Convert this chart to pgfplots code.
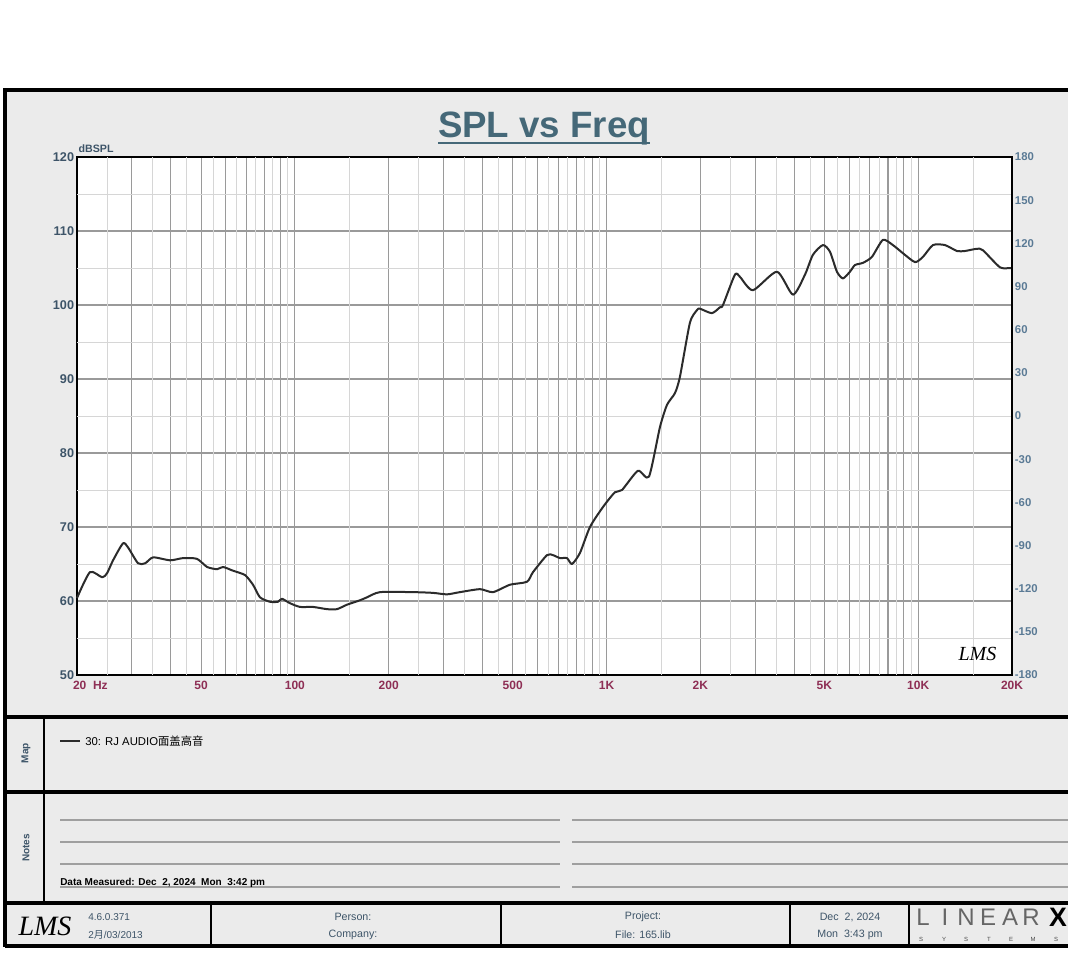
\documentclass[border=0pt]{standalone}
\usepackage{fontspec}
\setmainfont{Liberation Sans}
\newfontfamily\cjk{Noto Sans CJK SC}
\newfontfamily\serifit{Liberation Serif}
\usepackage{pgfplots}
\pgfplotsset{compat=1.18}

\definecolor{bg}{HTML}{EBEBEB}
\definecolor{slate}{HTML}{3D5468}
\definecolor{titlec}{HTML}{456878}
\definecolor{phasec}{HTML}{5A7A95}
\definecolor{freqc}{HTML}{8E2F55}
\definecolor{gridd}{HTML}{9A9A9A}
\definecolor{gridl}{HTML}{D6D6D6}
\definecolor{curve}{HTML}{2B2B2B}

\begin{document}
\begin{tikzpicture}
% page furniture, in pixel units of the reference (1068 x 958)
\begin{scope}[x=0.75pt,y=-0.75pt]
\useasboundingbox (0,0) rectangle (1068,958);
\fill[white] (0,0) rectangle (1068,958);
\fill[bg] (5,90) rectangle (1068,946);
\draw[line width=3pt] (5,90) -- (1068,90);
\draw[line width=3pt] (5,88) -- (5,947);
\draw[line width=3pt] (5,946) -- (1068,946);
\draw[line width=2.4pt] (5,717) -- (1068,717);
\draw[line width=2.4pt] (5,792) -- (1068,792);
\draw[line width=2.4pt] (5,903) -- (1068,903);
\draw[line width=2pt] (44,717) -- (44,903);
\foreach \xx in {211,501,790,909} \draw[line width=1.6pt] (\xx,903) -- (\xx,946);
% map / notes
\node[rotate=90, font=\fontsize{7.5}{8}\selectfont\bfseries, text=slate] at (26,753) {Map};
\node[rotate=90, font=\fontsize{7.5}{8}\selectfont\bfseries, text=slate] at (26,848) {Notes};
\draw[curve, line width=1.1pt] (60,741) -- (80,741);
\node[anchor=west, inner sep=0pt, font=\fontsize{8.5}{9}\selectfont] at (85,741) {30: RJ AUDIO{\cjk 面盖高音}};
\foreach \yy in {820,842,864,887} {
  \draw[gray!75, line width=0.8pt] (60,\yy) -- (560,\yy);
  \draw[gray!75, line width=0.8pt] (572,\yy) -- (1068,\yy);
}
\node[anchor=base west, inner sep=0pt, font=\fontsize{7.5}{8}\selectfont\bfseries] at (60,885) {Data Measured: Dec\ \ 2, 2024\ \ Mon\ \ 3:42 pm};
% footer
\node[font=\serifit\itshape\fontsize{21}{21}\selectfont] at (45,926) {LMS};
\node[anchor=west, inner sep=0pt, font=\fontsize{7.5}{8}\selectfont, text=slate] at (88,917) {4.6.0.371};
\node[anchor=west, inner sep=0pt, font=\fontsize{7.5}{8}\selectfont, text=slate] at (88,935) {2{\cjk 月}/03/2013};
\node[font=\fontsize{8}{9}\selectfont, text=slate] at (353,917) {Person:};
\node[font=\fontsize{8}{9}\selectfont, text=slate] at (353,935) {Company:};
\node[font=\fontsize{8}{9}\selectfont, text=slate] at (643,917) {Project:};
\node[font=\fontsize{8}{9}\selectfont, text=slate] at (643,935) {File: 165.lib};
\node[font=\fontsize{8}{9}\selectfont, text=slate] at (850,917) {Dec\ \ 2, 2024};
\node[font=\fontsize{8}{9}\selectfont, text=slate] at (850,935) {Mon\ \ 3:43 pm};
\foreach \ll/\xx in {L/923,I/945,N/966,E/988,A/1010,R/1031}
  \node[font=\fontsize{18}{18}\selectfont, text=black!60] at (\xx,917) {\ll};
\node[font=\fontsize{20}{20}\selectfont\bfseries] at (1058,917) {X};
\foreach \ll/\xx in {S/921,Y/944,S/966,T/989,E/1011,M/1033,S/1056}
  \node[font=\fontsize{4.5}{5}\selectfont, text=black!70] at (\xx,939) {\ll};
% title
\node[anchor=base, inner sep=0pt, font=\fontsize{27.5}{28}\selectfont\bfseries, text=titlec] at (544,137) {SPL vs Freq};
\draw[titlec, line width=1.5pt] (438,142.5) -- (650,142.5);
\end{scope}

\begin{axis}[
  at={(57.75pt,-506.25pt)}, anchor=south west,
  scale only axis, width=701.25pt, height=388.5pt,
  xmode=log, xmin=20, xmax=20000, ymin=50, ymax=120,
  clip=false,
  axis background/.style={fill=white},
  axis line style={black, line width=0.9pt},
  xtick={20,50,100,200,500,1000,2000,5000,10000,20000},
  xticklabels={\makebox[0pt][l]{\hspace*{-3pt}20\ \ Hz},50,100,200,500,1K,2K,5K,10K,20K},
  minor xtick={30,40,60,70,80,90,300,400,600,700,800,900,3000,4000,6000,7000,8000,9000},
  extra x ticks={25,35,45,55,65,75,85,95,150,250,350,450,550,650,750,850,950,1500,2500,3500,4500,5500,6500,7500,8500,9500,15000},
  extra x tick labels={},
  extra x tick style={major grid style={gridl, line width=0.7pt}},
  ytick={50,60,70,80,90,100,110,120},
  yticklabels={50,60,70,80,90,100,110,120},
  extra y ticks={55,65,75,85,95,105,115},
  extra y tick labels={},
  extra y tick style={major grid style={gridl, line width=0.7pt}},
  grid=both,
  major grid style={gridd, line width=0.8pt},
  minor grid style={gridd, line width=0.8pt},
  major tick length=0pt, minor tick length=0pt,
  xticklabel style={font=\fontsize{9}{10}\selectfont\bfseries, text=freqc, text height=7pt, text depth=0pt},
  yticklabel style={font=\fontsize{9.5}{10}\selectfont\bfseries, text=slate, inner sep=2pt},
]
\addplot[curve, line width=1.5pt, line join=round, smooth, tension=0.4] coordinates {
(20,60.4) (22.0,63.9) (24.1,63.2) (25.0,63.8) (26.1,65.5) (28.1,67.8) (29.2,67.2)
(31.4,65.1) (33.1,65.1) (35.1,65.9) (39.8,65.5) (43.8,65.8) (48.5,65.7) (52.3,64.6)
(56.3,64.3) (58.8,64.6) (63.3,64.1) (69.2,63.5) (73.4,62.2) (77.3,60.5) (83.2,59.9)
(88.3,59.9) (90.9,60.3) (96.5,59.7) (103.9,59.2) (114.3,59.2) (126.8,58.9) (136.5,58.9)
(146.9,59.5) (161.8,60.1) (170.4,60.5) (187.6,61.2) (239.4,61.2) (277.5,61.1) (307.6,60.9)
(338.6,61.2) (392.7,61.6) (432.2,61.2) (490,62.2) (555.6,62.6) (580.9,63.9) (644,66.2)
(673.3,66.2) (709,65.8) (746.6,65.8) (774.8,65.0) (821.8,66.5) (884.8,70.0) (974,72.7)
(1064,74.7) (1121,75.0) (1261,77.6) (1368,76.8) (1484,83.5) (1563,86.5) (1658,88.1)
(1720,90.3) (1852,97.6) (1950,99.3) (1994,99.5) (2178,98.9) (2312,99.7) (2364,100.0)
(2582,104.1) (2680,103.8) (2950,102.0) (3522,104.5) (3964,101.4) (4332,104.1) (4596,106.8)
(4948,108.1) (5210,107.2) (5486,104.5) (5736,103.6) (6040,104.5) (6268,105.4) (6648,105.7)
(7104,106.5) (7706,108.8) (8296,108.1) (8934,107.0) (9762,105.8) (10354,106.5) (11150,108.1)
(12184,108.1) (13314,107.3) (14126,107.3) (15434,107.6) (16132,107.4) (18292,105.1)
(19694,105.0) (20000,105.0)
};
\node[anchor=south west, inner sep=1pt, yshift=2pt, font=\fontsize{8}{9}\selectfont\bfseries, text=slate] at (rel axis cs:0,1) {dBSPL};
\node[font=\serifit\itshape\fontsize{15}{15}\selectfont] at (rel axis cs:0.963,0.04) {LMS};
\end{axis}

\begin{axis}[
  at={(57.75pt,-506.25pt)}, anchor=south west,
  scale only axis, width=701.25pt, height=388.5pt,
  xmode=log, xmin=20, xmax=20000, ymin=-180, ymax=180,
  hide x axis,
  axis y line*=right,
  axis line style={black, line width=0.9pt},
  ytick={-180,-150,-120,-90,-60,-30,0,30,60,90,120,150,180},
  yticklabels={-180,-150,-120,-90,-60,-30,0,30,60,90,120,150,180},
  major tick length=0pt,
  yticklabel style={font=\fontsize{8.5}{9}\selectfont\bfseries, text=phasec, inner sep=2pt},
]
\addplot[draw=none] coordinates {(20,0) (20000,0)};
\node[anchor=south east, inner sep=1pt, yshift=2pt, font=\fontsize{8}{9}\selectfont\bfseries, text=slate] at (rel axis cs:1,1) {Deg};
\end{axis}
\end{tikzpicture}
\end{document}
